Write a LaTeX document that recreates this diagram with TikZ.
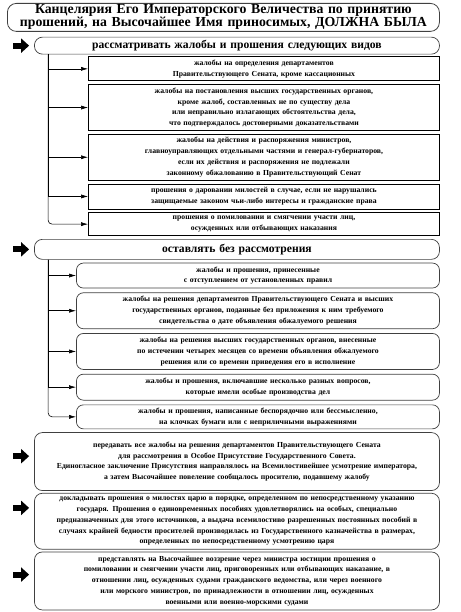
\documentclass[tikz,border=0pt]{standalone}
\usepackage{fontspec}
\setmainfont{Liberation Serif}
\usetikzlibrary{positioning,arrows.meta}

\begin{document}
\begin{tikzpicture}[x=1pt, y=-1pt,
  headbox/.style={rectangle, draw=black!75, line width=0.8pt, rounded corners=9pt, inner xsep=2pt, inner ysep=1pt,
    text width=428pt, minimum height=28pt, align=center, font=\fontsize{13.8}{13}\selectfont\bfseries},
  rowbox/.style={rectangle, draw=black!75, line width=0.7pt, rounded corners=8pt, inner xsep=2pt, inner ysep=0.5pt,
    text width=401pt, align=center, font=\fontsize{11.6}{13}\selectfont\bfseries},
  itembox/.style={rectangle, draw, line width=0.7pt, inner xsep=2pt, inner ysep=0.5pt,
    text width=347pt, align=center, font=\fontsize{7.7}{10.8}\selectfont\bfseries},
  ritembox/.style={itembox, draw=black!75, rounded corners=7pt, text width=359pt},
  textbox/.style={rowbox, font=\fontsize{7.7}{10.8}\selectfont\bfseries},
  link/.style={line width=0.6pt, -{Latex[length=7pt,width=4pt]}},
  bigarrow/.style={line width=6pt, -{Triangle[length=8pt,width=14pt]}}
]
\useasboundingbox (0,0) rectangle (460,612);

\node (head) [headbox, anchor=north west] at (7,3)
  {Канцелярия Его Императорского Величества по принятию\\
   прошений, на Высочайшее Имя приносимых, ДОЛЖНА БЫЛА};

% рассматривать
\node (r1) [rowbox, minimum height=17pt, below=5pt of head.south east, anchor=north east]
  {рассматривать жалобы и прошения следующих видов};
\node (b1) [itembox, minimum height=24pt, below=2pt of r1.south east, anchor=north east]
  {жалобы на определения департаментов\\ Правительствующего Сената, кроме кассационных};
\node (b2) [itembox, minimum height=46pt, below=3pt of b1]
  {жалобы на постановления высших государственных органов,\\ кроме жалоб, составленных не по существу дела\\
   или неправильно излагающих обстоятельства дела,\\ что подтверждалось достоверными доказательствами};
\node (b3) [itembox, minimum height=46pt, below=3pt of b2]
  {жалобы на действия и распоряжения министров,\\ главноуправляющих отдельными частями и генерал-губернаторов,\\
   если их действия и распоряжения не подлежали\\ законному обжалованию в Правительствующий Сенат};
\node (b4) [itembox, minimum height=25pt, below=3pt of b3]
  {прошения о даровании милостей в случае, если не нарушались\\ защищаемые законом чьи-либо интересы и гражданские права};
\node (b5) [itembox, minimum height=23pt, below=3pt of b4]
  {прошения о помиловании и смягчении участи лиц,\\ осужденных или отбывающих наказания};

% оставлять
\node (r2) [rowbox, minimum height=20pt, below=3pt of b5.south east, anchor=north east]
  {оставлять без рассмотрения};
\node (c1) [ritembox, minimum height=25pt, below=3pt of r2.south east, anchor=north east]
  {жалобы и прошения, принесенные\\ с отступлением от установленных правил};
\node (c2) [ritembox, minimum height=36pt, below=4pt of c1]
  {жалобы на решения департаментов Правительствующего Сената и высших\\
   государственных органов, поданные без приложения к ним требуемого\\
   свидетельства о дате объявления обжалуемого решения};
\node (c3) [ritembox, minimum height=36pt, below=4pt of c2]
  {жалобы на решения высших государственных органов, внесенные\\
   по истечении четырех месяцев со времени объявления обжалуемого\\
   решения или со времени приведения его в исполнение};
\node (c4) [ritembox, minimum height=26pt, below=4pt of c3]
  {жалобы и прошения, включавшие несколько разных вопросов,\\ которые имели особые производства дел};
\node (c5) [ritembox, minimum height=24pt, below=4pt of c4]
  {жалобы и прошения, написанные беспорядочно или бессмысленно,\\ на клочках бумаги или с неприличными выражениями};

% further rows
\node (r3) [textbox, minimum height=58pt, below=3pt of c5.south east, anchor=north east]
  {передавать все жалобы на решения департаментов Правительствующего Сената\\
   для рассмотрения в Особое Присутствие Государственного Совета.\\
   Единогласное заключение Присутствия направлялось на Всемилостивейшее усмотрение императора,\\
   а затем Высочайшее повеление сообщалось просителю, подавшему жалобу};
\node (r4) [textbox, minimum height=56pt, below=2pt of r3]
  {докладывать прошения о милостях царю в порядке, определенном по непосредственному указанию\\
   государя. Прошения о единовременных пособиях удовлетворялись на особых, специально\\
   предназначенных для этого источников, а выдача всемилостиво разрешенных постоянных пособий в\\
   случаях крайней бедности просителей производилась из Государственного казначейства в размерах,\\
   определенных по непосредственному усмотрению царя};
\node (r5) [textbox, minimum height=58pt, below=2pt of r4]
  {представлять на Высочайшее воззрение через министра юстиции прошения о\\
   помиловании и смягчении участи лиц, приговоренных или отбывающих наказание, в\\
   отношении лиц, осужденных судами гражданского ведомства, или через военного\\
   или морского министров, по принадлежности в отношении лиц, осужденных\\
   военными или военно-морскими судами};

% big arrows
\coordinate (a1) at (r1.west);
\coordinate (a2) at (r2.west);
\coordinate (a3) at ([yshift=-24pt]r3.north west);
\coordinate (a4) at ([yshift=-15pt]r4.north west);
\coordinate (a5) at ([yshift=-23pt]r5.north west);
\foreach \a in {a1,a2,a3,a4,a5}
  \draw[bigarrow] ([xshift=-21pt]\a) -- ([xshift=-5pt]\a);

% branches
\coordinate (t1) at ([xshift=14pt]r1.south west);
\coordinate (t2) at ([xshift=14pt]r2.south west);
\foreach \b in {b1,b2,b3,b4}
  \draw[link] (t1) |- (\b);
\draw[link, rounded corners=4pt] (t1) |- (b5);
\foreach \c in {c1,c2,c3,c4}
  \draw[link] (t2) |- (\c);
\draw[link, rounded corners=4pt] (t2) |- (c5);

\end{tikzpicture}
\end{document}
